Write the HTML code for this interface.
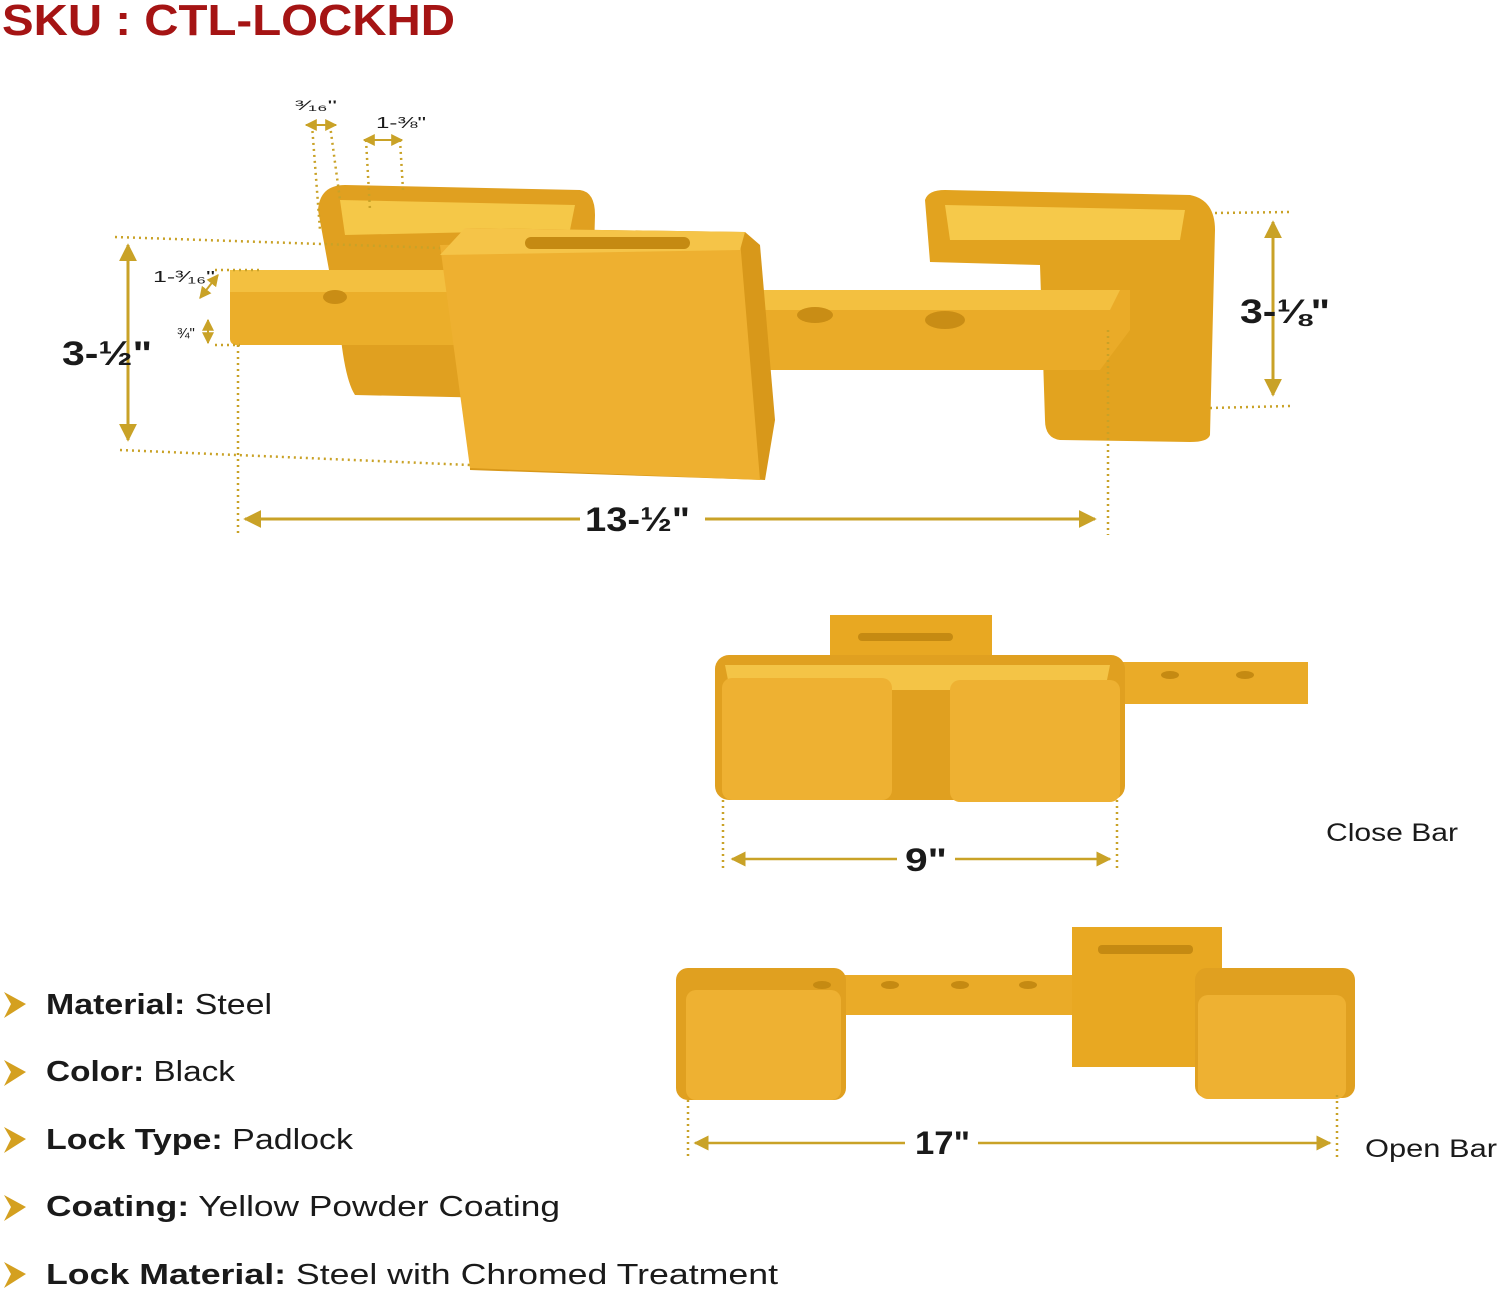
<!DOCTYPE html>
<html><head><meta charset="utf-8"><style>
html,body{margin:0;padding:0;background:#fff;width:1500px;height:1290px;overflow:hidden;font-family:"Liberation Sans",sans-serif}
svg{display:block}
.t{font-family:"Liberation Sans",sans-serif;fill:#1a1a1a}
</style></head><body>
<svg width="1500" height="1290" viewBox="0 0 1500 1290" xmlns="http://www.w3.org/2000/svg">
<defs>
<marker id="ah" viewBox="0 0 10 10" refX="9" refY="5" markerWidth="6" markerHeight="6" orient="auto-start-reverse"><path d="M0,0 L10,5 L0,10 z" fill="#c9a227"/></marker>
</defs>
<text x="2" y="35" font-size="44" font-weight="bold" fill="#a51414" font-family="Liberation Sans,sans-serif" textLength="453" lengthAdjust="spacingAndGlyphs">SKU : CTL-LOCKHD</text>

<g>
<path d="M318,210 Q320,185 345,185 L580,190 Q595,192 595,215 L590,400 L355,395 Q345,380 340,330 Z" fill="#e0a020"/>
<path d="M340,200 L575,205 L570,230 L345,235 Z" fill="#f5c848"/>
<rect x="230" y="270" width="240" height="75" rx="6" fill="#ebae2a"/>
<rect x="230" y="270" width="240" height="22" fill="#f3c040"/>
<path d="M925,200 Q928,190 945,190 L1190,195 Q1215,200 1215,230 L1210,435 Q1208,442 1190,442 L1060,440 Q1045,438 1045,420 L1040,265 L930,262 Z" fill="#e2a31f"/>
<path d="M945,205 L1185,210 L1180,240 L950,240 Z" fill="#f6c94a"/>
<path d="M730,290 L1130,290 L1130,330 L1100,370 L730,370 Z" fill="#eaab28"/>
<path d="M730,290 L1120,290 L1110,310 L730,310 Z" fill="#f3c040"/>
<ellipse cx="815" cy="315" rx="18" ry="8" fill="#c98d15"/>
<ellipse cx="945" cy="320" rx="20" ry="9" fill="#c98d15"/>
<ellipse cx="335" cy="297" rx="12" ry="7" fill="#c98d15"/>
<path d="M465,228 L745,232 L760,245 L775,420 L765,480 L470,470 Z" fill="#d8981a"/>
<path d="M440,245 L740,240 L760,480 L470,468 Z" fill="#eeb030"/>
<path d="M465,228 L745,232 L740,250 L440,255 Z" fill="#f5c448"/>
<rect x="525" y="237" width="165" height="12" rx="6" fill="#c58a12"/>
</g>

<g stroke="#c9a227" stroke-width="2.5" fill="none" stroke-dasharray="2,4">
<line x1="115" y1="237" x2="440" y2="248"/>
<line x1="120" y1="450" x2="470" y2="465"/>
<line x1="1215" y1="213" x2="1290" y2="212"/>
<line x1="1210" y1="408" x2="1290" y2="406"/>
<line x1="238" y1="345" x2="238" y2="535"/>
<line x1="1108" y1="330" x2="1108" y2="535"/>
<line x1="312" y1="125" x2="320" y2="230"/>
<line x1="330" y1="125" x2="340" y2="200"/>
<line x1="366" y1="140" x2="370" y2="210"/>
<line x1="400" y1="140" x2="403" y2="190"/>
<line x1="215" y1="270" x2="260" y2="270"/>
<line x1="215" y1="345" x2="240" y2="345"/>
</g>
<g stroke="#c9a227" stroke-width="3" fill="none">
<line x1="128" y1="245" x2="128" y2="440" marker-start="url(#ah)" marker-end="url(#ah)"/>
<line x1="1273" y1="222" x2="1273" y2="395" marker-start="url(#ah)" marker-end="url(#ah)"/>
<line x1="245" y1="519" x2="580" y2="519" marker-start="url(#ah)"/>
<line x1="705" y1="519" x2="1095" y2="519" marker-end="url(#ah)"/>
<line x1="306" y1="125" x2="336" y2="125" stroke-width="2" marker-start="url(#ah)" marker-end="url(#ah)"/>
<line x1="364" y1="140" x2="402" y2="140" stroke-width="2" marker-start="url(#ah)" marker-end="url(#ah)"/>
<line x1="218" y1="275" x2="200" y2="298" stroke-width="2" marker-start="url(#ah)" marker-end="url(#ah)"/>
<line x1="208" y1="320" x2="208" y2="343" stroke-width="2" marker-start="url(#ah)" marker-end="url(#ah)"/>
</g>
<text class="t" x="62" y="365" font-size="34" font-weight="bold" textLength="90" lengthAdjust="spacingAndGlyphs">3-½"</text>
<text class="t" x="1240" y="323" font-size="34" font-weight="bold" textLength="90" lengthAdjust="spacingAndGlyphs">3-⅛"</text>
<text class="t" x="585" y="531" font-size="34" font-weight="bold" textLength="105" lengthAdjust="spacingAndGlyphs">13-½"</text>
<text class="t" x="295" y="110" font-size="14" textLength="42" lengthAdjust="spacingAndGlyphs">³⁄₁₆"</text>
<text class="t" x="376" y="128" font-size="16" textLength="50" lengthAdjust="spacingAndGlyphs">1-⅜"</text>
<text class="t" x="153" y="282" font-size="16" textLength="62" lengthAdjust="spacingAndGlyphs">1-³⁄₁₆"</text>
<text class="t" x="177" y="338" font-size="15">¾"</text>

<g>
<rect x="830" y="615" width="162" height="70" fill="#e8a822"/>
<rect x="858" y="633" width="95" height="8" rx="4" fill="#c58a12"/>
<rect x="1100" y="662" width="208" height="42" fill="#eaab28"/>
<rect x="715" y="655" width="410" height="145" rx="14" fill="#e0a020"/>
<path d="M725,665 L1110,665 L1105,690 L730,690 Z" fill="#f4c446"/>
<rect x="722" y="678" width="170" height="122" rx="10" fill="#eeb132"/>
<rect x="950" y="680" width="170" height="122" rx="10" fill="#eeb132"/>
<ellipse cx="1170" cy="675" rx="9" ry="4" fill="#c58a12"/>
<ellipse cx="1245" cy="675" rx="9" ry="4" fill="#c58a12"/>
</g>
<g stroke="#c9a227" stroke-width="2.5" fill="none">
<line x1="723" y1="800" x2="723" y2="868" stroke-dasharray="2,4"/>
<line x1="1117" y1="800" x2="1117" y2="868" stroke-dasharray="2,4"/>
<line x1="732" y1="859" x2="897" y2="859" marker-start="url(#ah)"/>
<line x1="955" y1="859" x2="1110" y2="859" marker-end="url(#ah)"/>
</g>
<text class="t" x="905" y="871" font-size="32" font-weight="bold" textLength="42" lengthAdjust="spacingAndGlyphs">9"</text>
<text class="t" x="1326" y="841" font-size="25" textLength="132" lengthAdjust="spacingAndGlyphs">Close Bar</text>

<g>
<rect x="700" y="975" width="400" height="40" fill="#eaab28"/>
<rect x="1072" y="927" width="150" height="140" fill="#e8a822"/>
<rect x="1098" y="945" width="95" height="9" rx="4" fill="#c58a12"/>
<rect x="676" y="968" width="170" height="132" rx="12" fill="#e0a020"/>
<rect x="686" y="990" width="155" height="110" rx="10" fill="#eeb132"/>
<rect x="1195" y="968" width="160" height="130" rx="12" fill="#e0a020"/>
<rect x="1198" y="995" width="148" height="104" rx="10" fill="#eeb132"/>
<ellipse cx="822" cy="985" rx="9" ry="4" fill="#c58a12"/>
<ellipse cx="890" cy="985" rx="9" ry="4" fill="#c58a12"/>
<ellipse cx="960" cy="985" rx="9" ry="4" fill="#c58a12"/>
<ellipse cx="1028" cy="985" rx="9" ry="4" fill="#c58a12"/>
</g>
<g stroke="#c9a227" stroke-width="2.5" fill="none">
<line x1="688" y1="1100" x2="688" y2="1158" stroke-dasharray="2,4"/>
<line x1="1337" y1="1095" x2="1337" y2="1158" stroke-dasharray="2,4"/>
<line x1="695" y1="1143" x2="905" y2="1143" marker-start="url(#ah)"/>
<line x1="978" y1="1143" x2="1330" y2="1143" marker-end="url(#ah)"/>
</g>
<text class="t" x="915" y="1154" font-size="32" font-weight="bold" textLength="55" lengthAdjust="spacingAndGlyphs">17"</text>
<text class="t" x="1365" y="1157" font-size="25" textLength="132" lengthAdjust="spacingAndGlyphs">Open Bar</text>

<g fill="#d4a020">
<path d="M4,992 L26,1004 L4,1018 L11,1004 Z"/>
<path d="M4,1060 L26,1072 L4,1086 L11,1072 Z"/>
<path d="M4,1127 L26,1139 L4,1153 L11,1139 Z"/>
<path d="M4,1195 L26,1207 L4,1221 L11,1207 Z"/>
<path d="M4,1262 L26,1274 L4,1288 L11,1274 Z"/>
</g>
<g class="t" font-size="29">
<text x="46" y="1014" textLength="226" lengthAdjust="spacingAndGlyphs"><tspan font-weight="bold">Material:</tspan> Steel</text>
<text x="46" y="1081" textLength="189" lengthAdjust="spacingAndGlyphs"><tspan font-weight="bold">Color:</tspan> Black</text>
<text x="46" y="1149" textLength="307" lengthAdjust="spacingAndGlyphs"><tspan font-weight="bold">Lock Type:</tspan> Padlock</text>
<text x="46" y="1216" textLength="514" lengthAdjust="spacingAndGlyphs"><tspan font-weight="bold">Coating:</tspan> Yellow Powder Coating</text>
<text x="46" y="1284" textLength="732" lengthAdjust="spacingAndGlyphs"><tspan font-weight="bold">Lock Material:</tspan> Steel with Chromed Treatment</text>
</g>
</svg>
</body></html>
